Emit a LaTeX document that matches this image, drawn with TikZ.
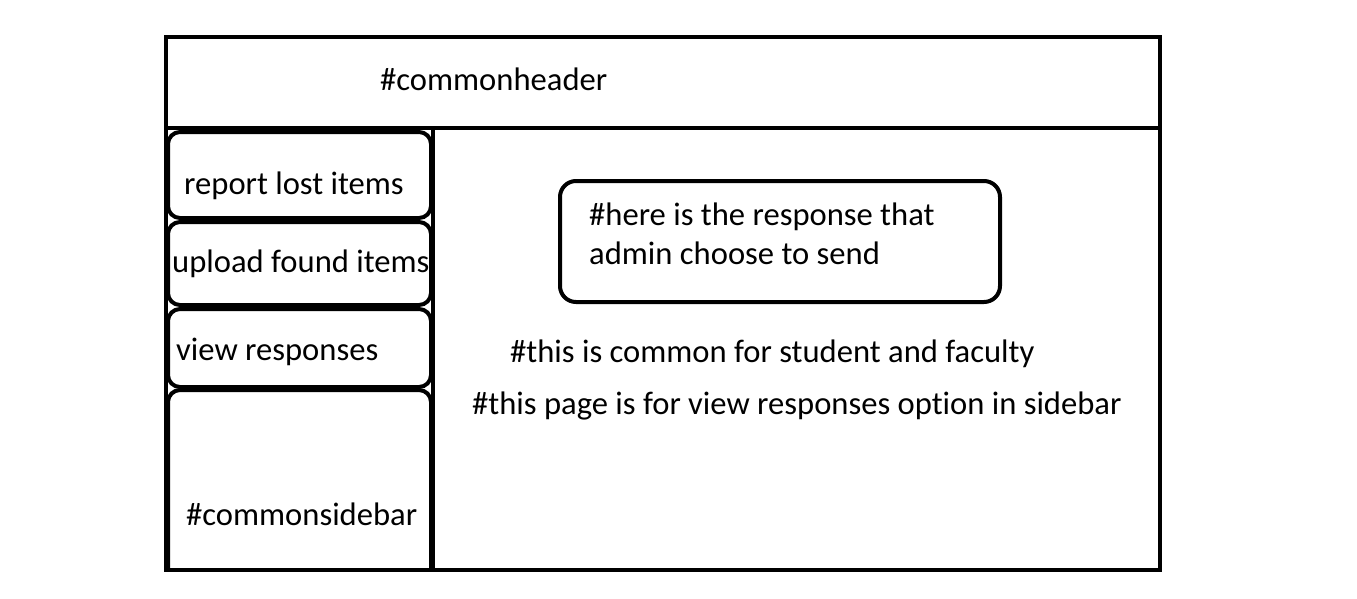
\documentclass[tikz,border=0pt]{standalone}
\usepackage{fontspec}
\setmainfont[Ligatures=NoCommon]{Carlito}
\begin{document}
\begin{tikzpicture}[x=1pt,y=-1pt,
  frame/.style={line width=4pt},
  btn/.style={draw,line width=4pt,rounded corners=12pt},
  lbl/.style={anchor=base west,inner sep=0pt,font=\fontsize{32.6}{38}\selectfont}]
\useasboundingbox (0,0) rectangle (1357,598);
% outer frame
\draw[frame] (166,37) rectangle (1160,570);
\draw[frame] (166,128) -- (1160,128);
\draw[frame] (433,128) -- (433,572);
% sidebar buttons
\draw[btn] (168,132) rectangle (431,218);
\draw[btn] (168,222) rectangle (431,305);
\draw[btn] (168,309) rectangle (431,387);
\draw[line width=4pt] (168,570) -- (168,402) [rounded corners=12pt] -- (168,390) -- (431,390) [sharp corners] -- (431,402) -- (431,570);
% response box
\draw[btn,rounded corners=16pt] (560,181) rectangle (1000,302);
% texts
\node[lbl] (hdr) at (380,90) {\#commonheader};
\node[lbl] (b1) at (184,194) {report lost items};
\node[lbl] (b2) at (172,272) {upload found items};
\node[lbl] (b3) at (176,360) {view responses};
\node[lbl] (sb) at (186,525) {\#commonsidebar};
\node[lbl] (r1) at (589,225) {\#here is the response that};
\node[lbl] (r2) at (589,264) {admin choose to send};
\node[lbl] (n1) at (510,362) {\#this is common for student and faculty};
\node[lbl] (n2) at (472,414) {\#this page is for view responses option in sidebar};
\end{tikzpicture}
\end{document}
